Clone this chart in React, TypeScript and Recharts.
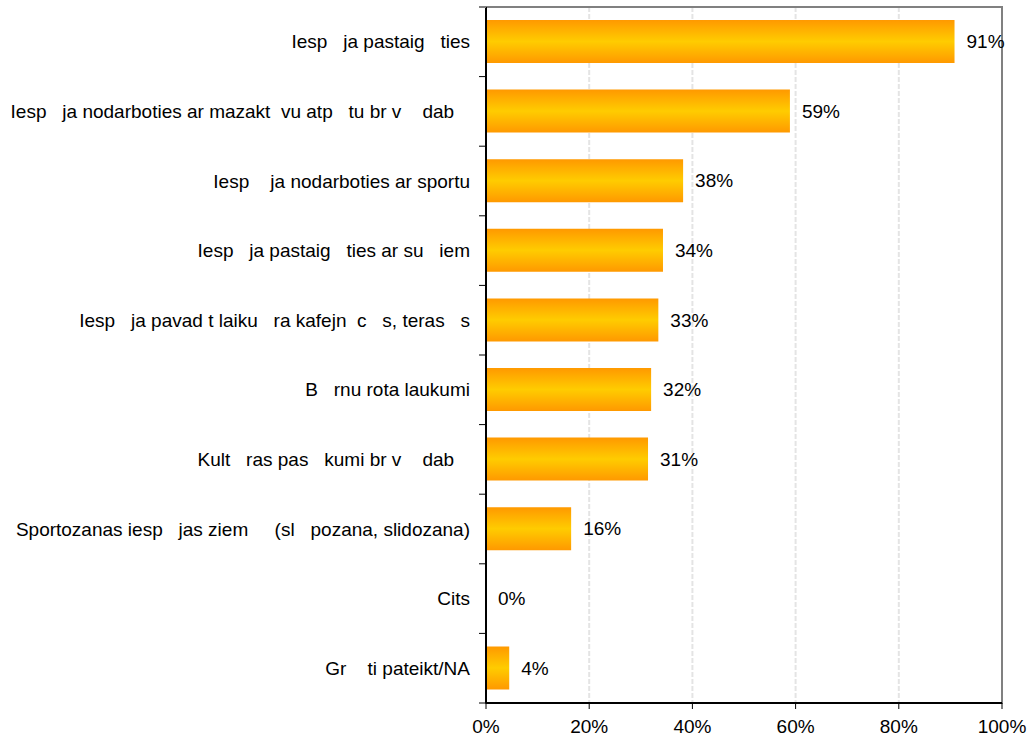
import React from "react";
import { BarChart, Bar, XAxis, YAxis, CartesianGrid, LabelList, ReferenceArea } from "recharts";

const categories = [
  "Iesp   ja pastaig   ties",
  "Iesp   ja nodarboties ar mazakt  vu atp   tu br v    dab   ",
  "Iesp    ja nodarboties ar sportu",
  "Iesp   ja pastaig   ties ar su   iem",
  "Iesp   ja pavad t laiku   ra kafejn  c   s, teras   s",
  "B   rnu rota laukumi",
  "Kult   ras pas   kumi br v    dab   ",
  "Sportozanas iesp   jas ziem     (sl   pozana, slidozana)",
  "Cits",
  "Gr    ti pateikt/NA",
];
const values = [90.8, 58.9, 38.2, 34.3, 33.4, 32.0, 31.4, 16.5, 0, 4.5];
const valueLabels = ["91%", "59%", "38%", "34%", "33%", "32%", "31%", "16%", "0%", "4%"];
const xTicks = [0, 20, 40, 60, 80, 100];

// zero-length bars are kept with a sub-pixel length so their value label is still drawn
const data = categories.map((name, i) => ({ name, value: Math.max(values[i], 0.001), label: valueLabels[i] }));

const W = 1031;
const H = 740;
const MARGIN_TOP = 7;
const X_AXIS_H = 37;
const HALF_BAND = (H - MARGIN_TOP - X_AXIS_H) / categories.length / 2;
const FONT = "'Liberation Sans', Arial, sans-serif";
const FS = 19;

const CatTick = (props: any) => {
  const { x, y, payload, index } = props;
  const axisX = x + 16;
  return (
    <g>
      <text
        x={x}
        y={y}
        dy="0.35em"
        textAnchor="end"
        fontSize={FS}
        fill="#000"
        fontFamily={FONT}
        style={{ whiteSpace: "pre" }}
        xmlSpace="preserve"
      >
        {payload.value}
      </text>
      {index === 0 && (
        <line x1={axisX - 7} x2={axisX} y1={y - HALF_BAND} y2={y - HALF_BAND} stroke="#808080" strokeWidth={2} />
      )}
      <line x1={axisX - 7} x2={axisX} y1={y + HALF_BAND} y2={y + HALF_BAND} stroke="#000" strokeWidth={1} />
    </g>
  );
};

export default function App() {
  return (
    <div style={{ position: "absolute", left: 0, top: 0, background: "#fff" }}>
      <BarChart
        width={W}
        height={H}
        data={data}
        layout="vertical"
        margin={{ top: MARGIN_TOP, right: 29, bottom: 0, left: 0 }}
        barSize={43}
      >
        <defs>
          <linearGradient id="barGrad" x1="0" y1="0" x2="0" y2="1">
            <stop offset="0%" stopColor="#FF9900" />
            <stop offset="50%" stopColor="#FFCC00" />
            <stop offset="100%" stopColor="#FF9900" />
          </linearGradient>
        </defs>
        <CartesianGrid horizontal={false} stroke="#e4e4e4" strokeWidth={2} strokeDasharray="5 2" />
        <ReferenceArea
          x1={0}
          x2={100}
          fill="none"
          fillOpacity={0}
          stroke="#808080"
          strokeWidth={2}
          ifOverflow="visible"
        />
        <XAxis
          type="number"
          domain={[0, 100]}
          ticks={xTicks}
          tickFormatter={(v: number) => `${v}%`}
          height={X_AXIS_H}
          axisLine={{ stroke: "#000", strokeWidth: 2 }}
          tickLine={{ stroke: "#000" }}
          tickSize={6}
          tickMargin={11}
          tick={{ fill: "#000", fontSize: FS, fontFamily: FONT }}
          interval={0}
        />
        <YAxis
          type="category"
          dataKey="name"
          width={486}
          tickSize={6}
          tickMargin={10}
          tickLine={false}
          axisLine={{ stroke: "#000", strokeWidth: 2 }}
          tick={<CatTick />}
          interval={0}
        />
        <Bar dataKey="value" fill="url(#barGrad)" isAnimationActive={false}>
          <LabelList
            dataKey="label"
            position="right"
            offset={12}
            style={{ fill: "#000", fontSize: FS, fontFamily: FONT }}
          />
        </Bar>
      </BarChart>
    </div>
  );
}
